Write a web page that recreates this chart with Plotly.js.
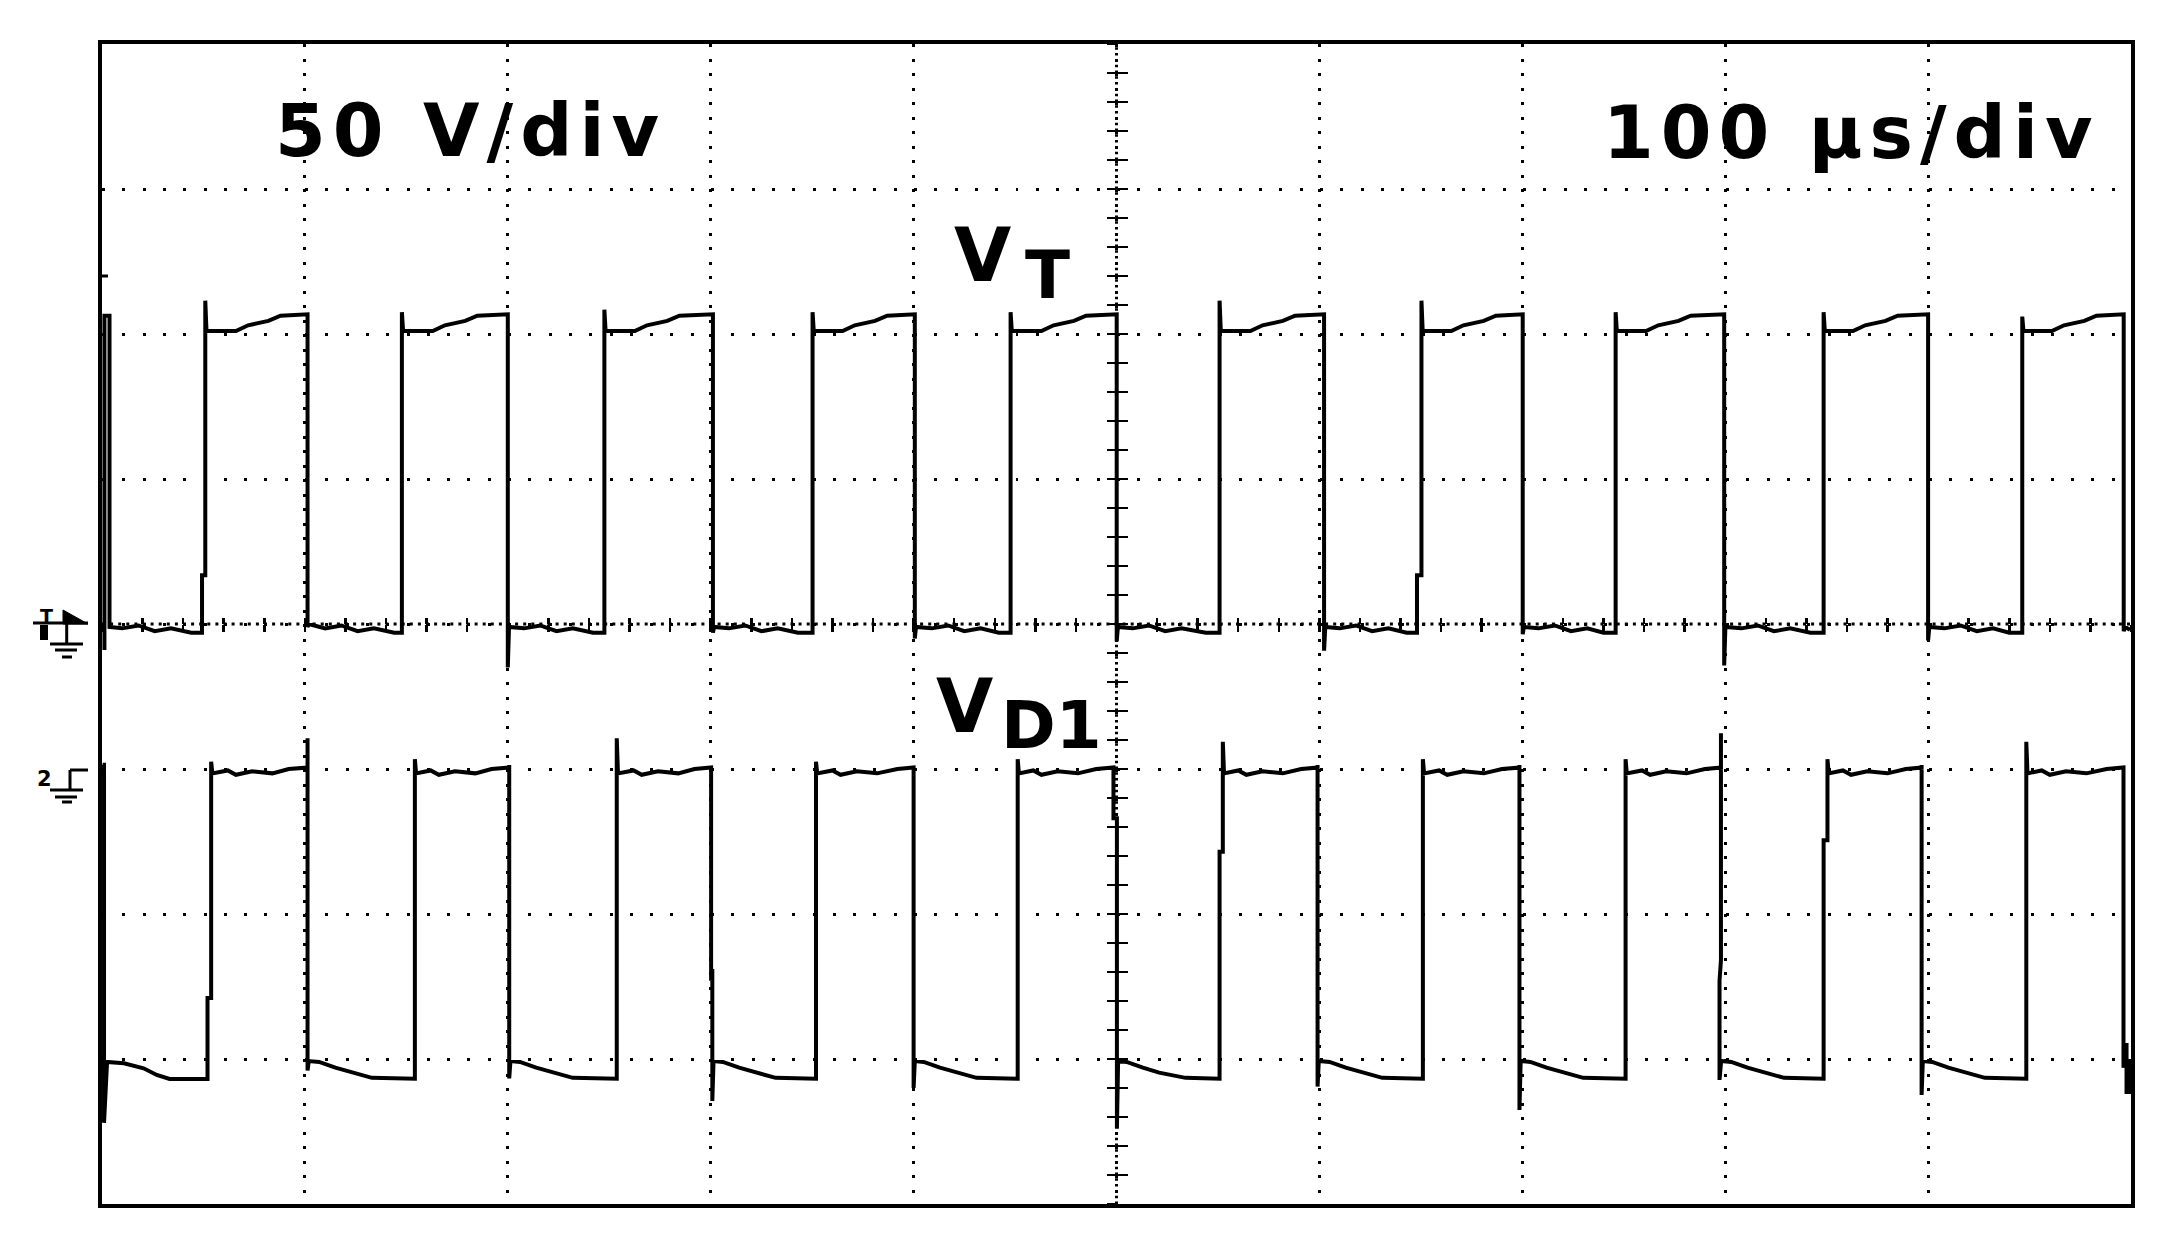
<!DOCTYPE html>
<html>
<head>
<meta charset="utf-8">
<script src="https://cdn.plot.ly/plotly-3.0.1.min.js"></script>
<style>
  html, body { margin: 0; padding: 0; background: #fff; }
  #scope { width: 2173px; height: 1244px; }
</style>
</head>
<body>
<div id="scope"></div>
<script>
// scope settings
var voltsPerDiv = 50;     // V/div
var timePerDiv = 100;     // us/div
var ch1Range = [-200, 200];   // VT, ground on the centre line
var ch2Range = [-150, 250];   // VD1, ground one division lower

// channel 1: VT (time in us, voltage in V)
var vtTime = [
  1.2, 1.2, 3.7, 3.7, 10, 18, 26, 34, 44, 49.3,
  49.3, 50.9, 50.9, 51.5, 66, 72, 82, 88, 101.3,
  101.3, 101.9, 110, 118, 126, 134, 144, 147.8,
  147.8, 148.4, 163, 169, 179, 185, 200,
  200, 200.6, 208, 216, 224, 232, 242, 247.6,
  247.6, 248.2, 262.6, 268.6, 278.6, 284.6, 301.1,
  301.1, 301.7, 309, 317, 325, 333, 343, 350.2,
  350.2, 350.8, 365, 371, 381, 387, 400.6,
  400.6, 401.2, 409, 417, 425, 433, 442, 447.8,
  447.8, 448.4, 463, 469, 479, 485, 500.1,
  500.1, 500.7, 508, 516, 524, 532, 544, 550.8,
  550.8, 551.4, 566, 572, 582, 588, 602.3,
  602.3, 602.9, 610, 618, 626, 634, 643, 648.1,
  648.1, 650.3, 650.3, 650.9, 665, 671, 681, 687, 700.2,
  700.2, 700.8, 708, 716, 724, 732, 740, 746,
  746, 746.6, 761, 767, 777, 783, 799.5,
  799.5, 800.1, 808, 816, 824, 832, 842, 848.5,
  848.5, 849.1, 863, 869, 879, 885, 900,
  900, 900.6, 908, 916, 924, 932, 940, 946.4,
  946.4, 947, 961, 967, 977, 983, 996.4,
  996.4, 997, 999.5
];
var vtVolt = [
  -9, 106.3, 106.3, -1, -1.5, -0.5, -2.5, -1.5, -3, -3,
  16.8, 16.8, 111.5, 101, 101, 103, 104.5, 106.3, 106.8,
  -1, 0, -1.5, -0.5, -2.5, -1.5, -3, -3,
  107.5, 101, 101, 103, 104.5, 106.3, 106.8,
  -15, -1, -1.5, -0.5, -2.5, -1.5, -3, -3,
  108.4, 101, 101, 103, 104.5, 106.3, 106.8,
  -3, -1, -1.5, -0.5, -2.5, -1.5, -3, -3,
  107.5, 101, 101, 103, 104.5, 106.3, 106.8,
  -5, -1, -1.5, -0.5, -2.5, -1.5, -3, -3,
  107.5, 101, 101, 103, 104.5, 106.3, 106.8,
  -6, -1, -1.5, -0.5, -2.5, -1.5, -3, -3,
  111.5, 101, 101, 103, 104.5, 106.3, 106.8,
  -9.2, -1, -1.5, -0.5, -2.5, -1.5, -3, -3,
  16.8, 16.8, 111.5, 101, 101, 103, 104.5, 106.3, 106.8,
  -3.5, -1, -1.5, -0.5, -2.5, -1.5, -3, -3,
  107.5, 101, 101, 103, 104.5, 106.3, 106.8,
  -14.3, -1, -1.5, -0.5, -2.5, -1.5, -3, -3,
  107.5, 101, 101, 103, 104.5, 106.3, 106.8,
  -5.7, -1, -1.5, -0.5, -2.5, -1.5, -3, -3,
  106, 101, 101, 103, 104.5, 106.3, 106.8,
  -2.5, -1, -2
];

// channel 2: VD1 (time in us, voltage in V)
var vd1Time = [
  0.3, 1.0, 1.0, 2.5, 10.8, 16, 20.5, 27, 33.3, 52,
  52, 53.8, 53.8, 54.4, 62, 66, 74, 84, 92, 101.3,
  101.3, 101.3, 101.9, 107, 115, 123, 133, 154.2,
  154.2, 154.8, 162, 166, 174, 184, 192, 200.7,
  200.7, 200.7, 201.3, 206, 214, 222, 232, 253.7,
  253.7, 254.3, 262, 266, 274, 284, 292, 300.2,
  300.2, 300.8, 300.8, 301.4, 306, 314, 322, 332, 351.9,
  351.9, 352.5, 360, 364, 372, 382, 392, 400,
  400, 400.6, 405, 413, 421, 431, 451.3,
  451.3, 451.9, 459, 463, 471, 481, 490, 498.5,
  498.5, 500.2, 500.2, 500.8, 505, 513, 521, 534, 550.8,
  550.8, 552.4, 552.4, 553, 560, 564, 572, 582, 591, 599.1,
  599.1, 599.1, 599.7, 605, 613, 621, 631, 651,
  651, 651.6, 659, 663, 671, 681, 690, 698.6,
  698.6, 698.6, 699.2, 704, 712, 720, 730, 750.9,
  750.9, 751.5, 759, 763, 771, 781, 790, 797.9,
  797.9, 797.9, 797.2, 797.2, 798, 803, 811, 819, 829, 848.5,
  848.5, 850.4, 850.4, 851, 858, 862, 870, 880, 889, 896.8,
  896.8, 896.8, 897.4, 902, 910, 918, 928, 948.4,
  948.4, 949, 956, 960, 968, 978, 988, 996.3,
  996.3, 997.8, 997.8, 999.3, 999.3
];
var vd1Volt = [
  1.5, 1.5, -122, -101, -101.5, -102.5, -103.2, -105.5, -106.9, -106.9,
  -79, -79, 2.5, -1.5, -0.5, -2, -0.8, -1.5, 0, 0.5,
  10.6, -104, -100.7, -101, -103, -104.7, -106.5, -106.8,
  3.4, -1.5, -0.5, -2, -0.8, -1.5, 0, 0.5,
  1.4, -106.7, -100.7, -101, -103, -104.7, -106.5, -106.8,
  10.6, -1.5, -0.5, -2, -0.8, -1.5, 0, 0.5,
  -73, -69, -114.5, -100.7, -101, -103, -104.7, -106.5, -106.8,
  2.5, -1.5, -0.5, -2, -0.8, -1.5, 0, 0.5,
  -110, -100.7, -101, -103, -104.7, -106.5, -106.8,
  3.4, -1.5, -0.5, -2, -0.8, -1.5, 0, 0.5,
  -17, -17, -124, -100.7, -101, -103, -104.7, -106.5, -106.8,
  -28.5, -28.5, 9.4, -1.5, -0.5, -2, -0.8, -1.5, 0, 0.5,
  1.4, -109.5, -100.7, -101, -103, -104.7, -106.5, -106.8,
  3.4, -1.5, -0.5, -2, -0.8, -1.5, 0, 0.5,
  1.4, -117.6, -100.7, -101, -103, -104.7, -106.5, -106.8,
  3.4, -1.5, -0.5, -2, -0.8, -1.5, 0, 0.5,
  12.3, -66, -73, -107.2, -100.7, -101, -103, -104.7, -106.5, -106.8,
  -24.6, -24.6, 3.4, -1.5, -0.5, -2, -0.8, -1.5, 0, 0.5,
  1.4, -112.4, -100.7, -101, -103, -104.7, -106.5, -106.8,
  9.4, -1.5, -0.5, -2, -0.8, -1.5, 0, 0.5,
  -103, -94.5, -111.4, -111.4, -100
];

// screen pixel -> paper helpers (for the small channel markers only)
var plotLeft = 102, plotTop = 44, plotW = 2029, plotH = 1160;
function px(X) { return (X - plotLeft) / plotW; }
function py(Y) { return 1 - (Y - plotTop) / plotH; }

function hline(x0, x1, y, w) {
    return {type: 'line', xref: 'paper', yref: 'paper', x0: px(x0), x1: px(x1), y0: py(y), y1: py(y),
        line: {color: '#000', width: w || 3}};
}
function vline(x, y0, y1, w) {
    return {type: 'line', xref: 'paper', yref: 'paper', x0: px(x), x1: px(x), y0: py(y0), y1: py(y1),
        line: {color: '#000', width: w || 3}};
}

var traceStyle = {color: '#000', width: 4};
var data = [
    {x: vtTime, y: vtVolt, xaxis: 'x', yaxis: 'y', type: 'scatter', mode: 'lines',
        line: traceStyle, hoverinfo: 'skip', name: 'VT'},
    {x: vd1Time, y: vd1Volt, xaxis: 'x', yaxis: 'y2', type: 'scatter', mode: 'lines',
        line: traceStyle, hoverinfo: 'skip', name: 'VD1'},
    // empty traces so the centre-cross tick axes get drawn
    {x: [], y: [], xaxis: 'x2', yaxis: 'y3', type: 'scatter', mode: 'lines', hoverinfo: 'skip'},
    {x: [], y: [], xaxis: 'x3', yaxis: 'y4', type: 'scatter', mode: 'lines', hoverinfo: 'skip'}
];

var bold = {family: 'DejaVu Sans', color: '#000', weight: 'bold'};
function font(size) { return Object.assign({size: size}, bold); }

var tickAxis = {
    showgrid: false, zeroline: false, showline: false, showticklabels: false,
    tickcolor: '#000', tickwidth: 2.5, tickmode: 'linear', tick0: 0,
    anchor: 'free', position: 0.5, fixedrange: true
};

var layout = {
    width: 2173,
    height: 1244,
    margin: {l: plotLeft, r: 2173 - plotLeft - plotW, t: plotTop, b: 1244 - plotTop - plotH, pad: 0},
    paper_bgcolor: '#fff',
    plot_bgcolor: '#fff',
    showlegend: false,
    xaxis: {
        range: [0, 10 * timePerDiv], tickmode: 'linear', tick0: 0, dtick: timePerDiv,
        showgrid: true, gridcolor: '#000', gridwidth: 3, griddash: '3px,11.5px',
        showline: true, linecolor: '#000', linewidth: 4, mirror: true,
        ticks: '', showticklabels: false, zeroline: false, fixedrange: true
    },
    yaxis: {
        range: ch1Range, tickmode: 'linear', tick0: 0, dtick: voltsPerDiv,
        showgrid: true, gridcolor: '#000', gridwidth: 3, griddash: '3px,17.3px',
        showline: true, linecolor: '#000', linewidth: 4, mirror: true,
        ticks: '', showticklabels: false, zeroline: false, fixedrange: true
    },
    yaxis2: {
        range: ch2Range, overlaying: 'y', showgrid: false, zeroline: false,
        showline: false, showticklabels: false, ticks: '', fixedrange: true
    },
    // minor ticks along the centre cross
    xaxis2: Object.assign({overlaying: 'x', range: [0, 10 * timePerDiv], dtick: timePerDiv / 5,
        ticks: 'outside', ticklen: 6.5}, tickAxis),
    xaxis3: Object.assign({overlaying: 'x', range: [0, 10 * timePerDiv], dtick: timePerDiv / 5,
        ticks: 'inside', ticklen: 6.5}, tickAxis),
    yaxis3: Object.assign({overlaying: 'y', side: 'left', range: ch1Range, dtick: voltsPerDiv / 5,
        ticks: 'outside', ticklen: 10}, tickAxis),
    yaxis4: Object.assign({overlaying: 'y', side: 'left', range: ch1Range, dtick: voltsPerDiv / 5,
        ticks: 'inside', ticklen: 10}, tickAxis),
    shapes: [
        // dense dotted centre lines
        {type: 'line', xref: 'x', yref: 'paper', x0: 5 * timePerDiv, x1: 5 * timePerDiv, y0: 0, y1: 1,
            layer: 'below', line: {color: '#000', width: 3, dash: '2.5px,3.3px'}},
        {type: 'line', xref: 'paper', yref: 'y', x0: 0, x1: 1, y0: 0, y1: 0,
            layer: 'below', line: {color: '#000', width: 3, dash: '3px,5.1px'}},
        // trigger level mark on the left frame
        hline(102, 108, 276, 3),
        // channel 1 marker
        {type: 'path', xref: 'paper', yref: 'paper', fillcolor: '#000', line: {color: '#000', width: 1},
            path: 'M' + px(63) + ',' + py(610) + ' L' + px(63) + ',' + py(624) + ' L' + px(88) + ',' + py(624) + ' Z'},
        {type: 'rect', xref: 'paper', yref: 'paper', x0: px(40), x1: px(48), y0: py(625), y1: py(640),
            fillcolor: '#000', line: {width: 0}},
        hline(33, 88, 623, 3), vline(66.7, 623, 644, 3),
        hline(50, 83, 644, 3), hline(55, 77, 650, 3), hline(62, 72, 657, 3),
        // channel 2 marker
        vline(70, 770, 790, 3), hline(70, 88, 770, 3),
        hline(50, 83, 790, 3), hline(55, 77, 797, 3), hline(62, 72, 802, 3)
    ],
    annotations: [
        {text: '50 V/div', xref: 'paper', yref: 'paper', x: px(275), y: py(131),
            xanchor: 'left', yanchor: 'middle', align: 'left', showarrow: false,
            borderpad: 0, borderwidth: 0, font: font(73)},
        {text: '100 \u00b5s/div', xref: 'paper', yref: 'paper', x: px(2100), y: py(132),
            xanchor: 'right', yanchor: 'middle', align: 'right', showarrow: false,
            borderpad: 0, borderwidth: 0, font: font(73)},
        {text: 'V', xref: 'paper', yref: 'paper', x: px(982), y: py(255.4),
            xanchor: 'center', yanchor: 'middle', showarrow: false,
            borderpad: 0, borderwidth: 0, font: font(74)},
        {text: 'T', xref: 'paper', yref: 'paper', x: px(1047), y: py(275.2),
            xanchor: 'center', yanchor: 'middle', showarrow: false,
            borderpad: 0, borderwidth: 0, font: font(66)},
        {text: 'V', xref: 'paper', yref: 'paper', x: px(964.8), y: py(705.7),
            xanchor: 'center', yanchor: 'middle', showarrow: false,
            borderpad: 0, borderwidth: 0, font: font(74)},
        {text: 'D1', xref: 'paper', yref: 'paper', x: px(1051.4), y: py(725.6),
            xanchor: 'center', yanchor: 'middle', showarrow: false,
            borderpad: 0, borderwidth: 0, font: font(66)},
        {text: 'T', xref: 'paper', yref: 'paper', x: px(46), y: py(616),
            xanchor: 'center', yanchor: 'middle', showarrow: false,
            borderpad: 0, borderwidth: 0, font: font(19)},
        {text: '2', xref: 'paper', yref: 'paper', x: px(44.5), y: py(779),
            xanchor: 'center', yanchor: 'middle', showarrow: false,
            borderpad: 0, borderwidth: 0, font: font(21)}
    ]
};

Plotly.newPlot('scope', data, layout, {displayModeBar: false, staticPlot: true}).then(function (gd) {
    // the scope font is wider than DejaVu, open up the two scale labels a little
    var labels = gd.querySelectorAll('.annotation[data-index="0"] text, .annotation[data-index="1"] text');
    labels.forEach(function (el) { el.style.letterSpacing = '7px'; });
});
</script>
</body>
</html>
